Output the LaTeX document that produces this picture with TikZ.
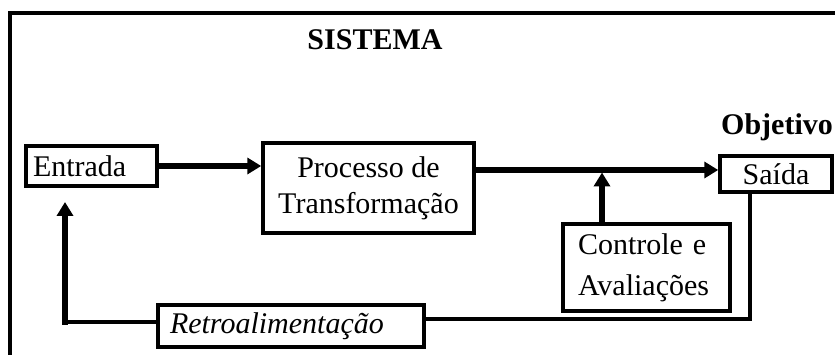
\documentclass[tikz,border=0pt]{standalone}
\usepackage{fontspec}
\setmainfont{Liberation Serif}
\usetikzlibrary{arrows.meta}
\begin{document}
\begin{tikzpicture}[x=1pt,y=-1pt,
  box/.style={draw,line width=3.5pt,inner sep=0pt,font=\fontsize{30}{36}\selectfont},
  thickarrow/.style={line width=5.5pt,-{Triangle[length=14pt,width=16pt]}},
  thinline/.style={line width=3.5pt},
  lbl/.style={font=\fontsize{30}{36}\selectfont\bfseries,inner sep=0pt}]
\useasboundingbox (0,0) rectangle (835,355);
\draw[thinline] (10,360) -- (10,13) -- (840,13);
\node[lbl] (sistema) at (375,40) {SISTEMA};
\node[box, text width=117pt, inner xsep=7pt, minimum height=40pt, align=left] (entrada) at (91.5,166) {Entrada};
\node[box, minimum width=211pt, minimum height=90pt, align=center] (processo) at (368.5,188) {Processo de\\Transformação};
\node[box, minimum width=112pt, minimum height=36pt] (saida) at (776,174) {Saída};
\node[lbl] (objetivo) at (777,127) {Objetivo};
\node[box, font=\fontsize{30}{41}\selectfont, text width=137pt, inner xsep=15pt, minimum height=87pt, align=left] (controle) at (646.5,267.5) {Controle e\\Avaliações};
\node[box, font=\fontsize{30}{36}\selectfont\itshape, text width=242pt, inner xsep=12pt, minimum height=42pt, align=left] (retro) at (291,326) {Retroalimentação};
\coordinate (j) at (602,170);
\coordinate (jt) at (602,172.5);
\coordinate (fb) at (750,319);
\coordinate (fl) at (65,322);
\coordinate (ft) at (65,202);
\draw[thickarrow] (entrada.east) -- (processo.west |- entrada.east);
\draw[thickarrow] (processo.east |- j) -- (saida.west |- j);
\draw[thickarrow] (controle.north -| j) -- (jt);
\draw[thinline] (saida.south -| fb) |- (retro.east |- fb);
\draw[thinline, line cap=rect] (retro.west |- fl) -- (fl);
\draw[thickarrow, line cap=rect] (fl) -- (ft);
\end{tikzpicture}
\end{document}
